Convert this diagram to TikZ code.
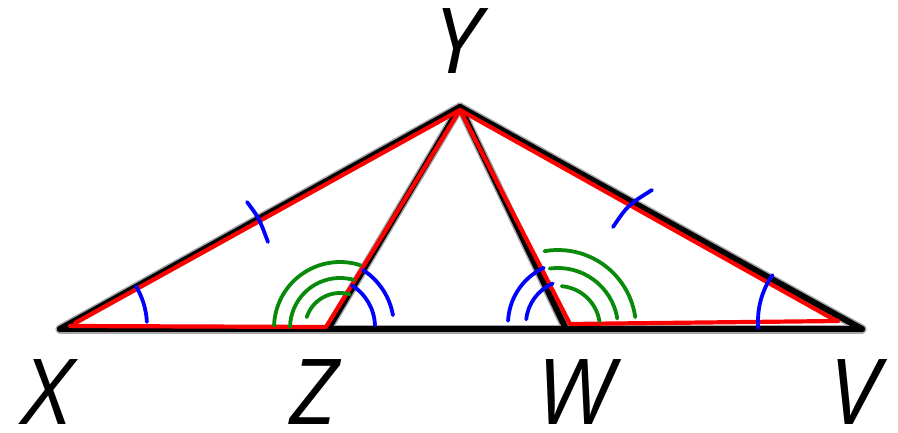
\documentclass[tikz,border=0pt]{standalone}
\usepackage{fontspec}
\setmainfont{Open Sans}
\usepackage{tikz}
\usetikzlibrary{calc}
\definecolor{trRed}{HTML}{FF0000}
\definecolor{trBlue}{HTML}{0000FF}
\definecolor{trGreen}{HTML}{0A8A0A}
\tikzset{
  side/.style={line width=6pt, black, line cap=round},
  sidehalo/.style={line width=9pt, black!35, line cap=round},
  redline/.style={line width=4.2pt, trRed, line cap=round, line join=round},
  bluemark/.style={line width=3.8pt, trBlue, line cap=round},
  greenmark/.style={line width=3.8pt, trGreen, line cap=round},
  vlabel/.style={font=\fontsize{91}{91}\selectfont\itshape, inner sep=0pt, anchor=base}
}
\begin{document}
\begin{tikzpicture}[x=1pt, y=1pt]
  \useasboundingbox (0,0) rectangle (898,-433);
  % black triangle
  \coordinate (X) at (60,-329);
  \coordinate (Y) at (460,-107);
  \coordinate (Z) at (328,-329);
  \coordinate (W) at (566,-329);
  \coordinate (V) at (862,-329);
  \foreach \s in {X, Z, W, V}{\draw[sidehalo] (\s) -- (Y);}
  \draw[sidehalo] (X) -- (V);
  \foreach \s in {X, Z, W, V}{\draw[side] (\s) -- (Y);}
  \draw[side] (X) -- (V);
  % red overlay
  \coordinate (rX) at (70,-326);
  \coordinate (rXt) at (75,-323);
  \coordinate (rY) at (460,-110);
  \coordinate (rZ) at (326,-327);
  \coordinate (rW) at (570,-324);
  \coordinate (rV) at (838,-321);
  \coordinate (rVt) at (833,-319);
  \draw[redline] (rX) -- (rZ) -- (rY) -- (rW) -- (rV);
  \draw[redline] (rXt) -- (rY) -- (rVt) -- (rV);
  % equal sides
  \draw[bluemark] (247,-202) .. controls (259,-218) .. (268,-242);
  \draw[bluemark] (652,-190) .. controls (628,-205) .. (613,-227);
  % base angles
  \draw[bluemark] ([shift={(3:77)}]rX) arc[start angle=3, end angle=31, radius=77];
  \draw[bluemark] ([shift={(145:80)}]rV) arc[start angle=145, end angle=185, radius=80];
  % angles at Z and W
  \draw[bluemark] ([shift={(2:49)}]rZ) arc[start angle=2, end angle=58, radius=49];
  \draw[bluemark] ([shift={(10:68)}]rZ) arc[start angle=10, end angle=57, radius=68];
  \draw[bluemark] ([shift={(115:62)}]rW) arc[start angle=115, end angle=177, radius=62];
  \draw[bluemark] ([shift={(113:44)}]rW) arc[start angle=113, end angle=174, radius=44];
  \coordinate (gZ) at (340,-328);
  \coordinate (gW) at (558,-328);
  \foreach \r/\a/\b in {66/72/178, 50/74/179, 35/74/162}{
    \draw[greenmark] ([shift={(\a:\r)}]gZ) arc[start angle=\a, end angle=\b, radius=\r];}
  \foreach \r/\a/\b in {78/100/8, 60/98/9, 42/85/9}{
    \draw[greenmark] ([shift={(\a:\r)}]gW) arc[start angle=\a, end angle=\b, radius=\r];}
  % labels
  \node[vlabel] (xl) at (47,-424) {X};
  \node[vlabel] (zl) at (314,-424) {Z};
  \node[vlabel] (wl) at (575,-424) {W};
  \node[vlabel] (vl) at (855,-424) {V};
  \node[vlabel] (yl) at (458,-74) {Y};
\end{tikzpicture}
\end{document}
